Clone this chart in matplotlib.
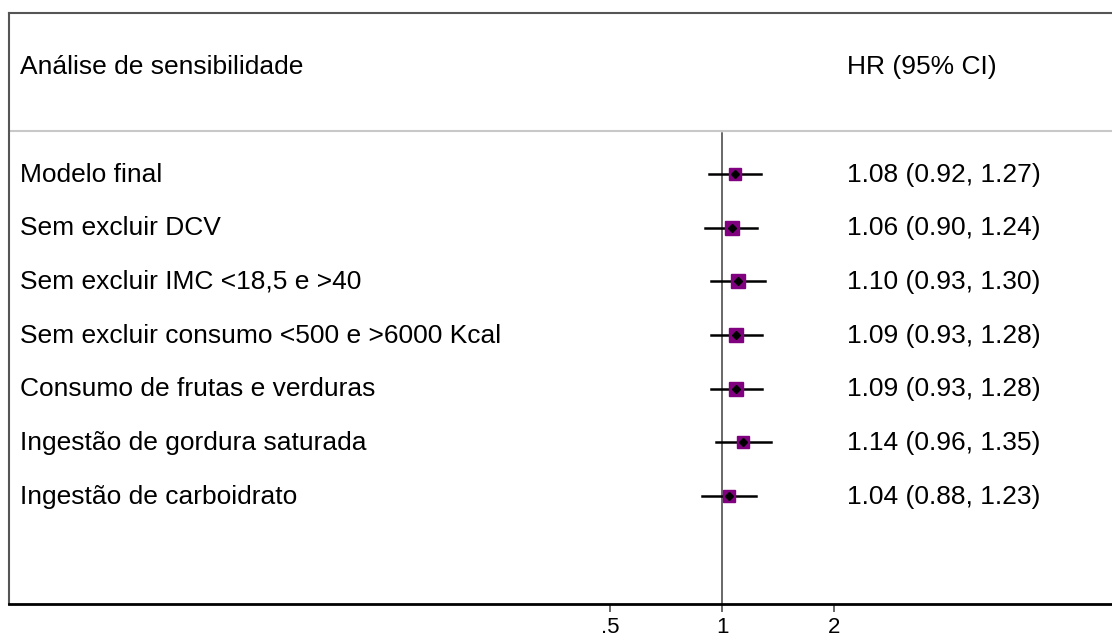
import numpy as np
import matplotlib.pyplot as plt
import matplotlib.transforms as mtransforms

plt.rcParams['font.family'] = ['Liberation Sans', 'DejaVu Sans']

# Sensitivity analysis results
labels = [
    'Modelo final',
    'Sem excluir DCV',
    'Sem excluir IMC <18,5 e >40',
    'Sem excluir consumo <500 e >6000 Kcal',
    'Consumo de frutas e verduras',
    'Ingestão de gordura saturada',
    'Ingestão de carboidrato',
]
hr = [1.08, 1.06, 1.10, 1.09, 1.09, 1.14, 1.04]
ci_low = [0.92, 0.90, 0.93, 0.93, 0.93, 0.96, 0.88]
ci_high = [1.27, 1.24, 1.30, 1.28, 1.28, 1.35, 1.23]
weights = [0.85, 1.0, 1.0, 1.0, 1.0, 0.85, 0.85]

xticks = [0.5, 1, 2]
xticklabels = ['.5', '1', '2']

W, H = 1112, 641
fig = plt.figure(figsize=(W / 100, H / 100), dpi=100)
ax = fig.add_axes([9 / W, 1 - 603.5 / H, 1 - 9 / W, (603.5 - 13) / H])

ax.set_xscale('log', base=2)
px_per_doubling = 112.0
ax.set_xlim(2 ** ((9 - 722.3) / px_per_doubling), 2 ** ((1112 - 722.3) / px_per_doubling))
ax.set_ylim(8, -3)

rows = np.arange(len(labels))

# reference line at HR = 1
ax.plot([1, 1], [-0.77, 8], color='#404040', lw=1.1, zorder=1)

# header separator
ax.axhline(-0.8, color='#c8c8c8', lw=1.5, zorder=1)

for i in rows:
    ax.plot([ci_low[i], ci_high[i]], [i, i], color='black', lw=1.8, zorder=2)
    ax.plot(hr[i], i, marker='s', ms=9.8 * weights[i], color='#800080',
            mec='#800080', zorder=3)
    ax.plot(hr[i], i, marker='D', ms=4.5, color='black', zorder=4)

# text sits on a baseline a little below each row centre
trans = mtransforms.blended_transform_factory(ax.transAxes, ax.transData)
trans = trans + mtransforms.ScaledTranslation(0, -7.5 / 100, fig.dpi_scale_trans)
fs = 19
ax.text(11 / 1103, -2, 'Análise de sensibilidade', transform=trans,
        fontsize=fs, va='baseline', ha='left')
ax.text(838 / 1103, -2, 'HR (95% CI)', transform=trans,
        fontsize=fs, va='baseline', ha='left')
for i in rows:
    ax.text(11 / 1103, i, labels[i], transform=trans, fontsize=fs,
            va='baseline', ha='left')
    ax.text(838 / 1103, i, f'{hr[i]:.2f} ({ci_low[i]:.2f}, {ci_high[i]:.2f})',
            transform=trans, fontsize=fs, va='baseline', ha='left')

ax.set_xticks(xticks)
ax.set_xticklabels(xticklabels, fontsize=16)
ax.xaxis.set_minor_locator(plt.NullLocator())
ax.tick_params(axis='x', length=6, width=1.1, color='#404040', pad=4)
ax.set_yticks([])

ax.spines['right'].set_visible(False)
ax.spines['top'].set_color('#555555')
ax.spines['top'].set_linewidth(1.5)
ax.spines['left'].set_color('#555555')
ax.spines['left'].set_linewidth(1.5)
ax.spines['bottom'].set_color('black')
ax.spines['bottom'].set_linewidth(2)

fig.savefig('out.png', dpi=100)
